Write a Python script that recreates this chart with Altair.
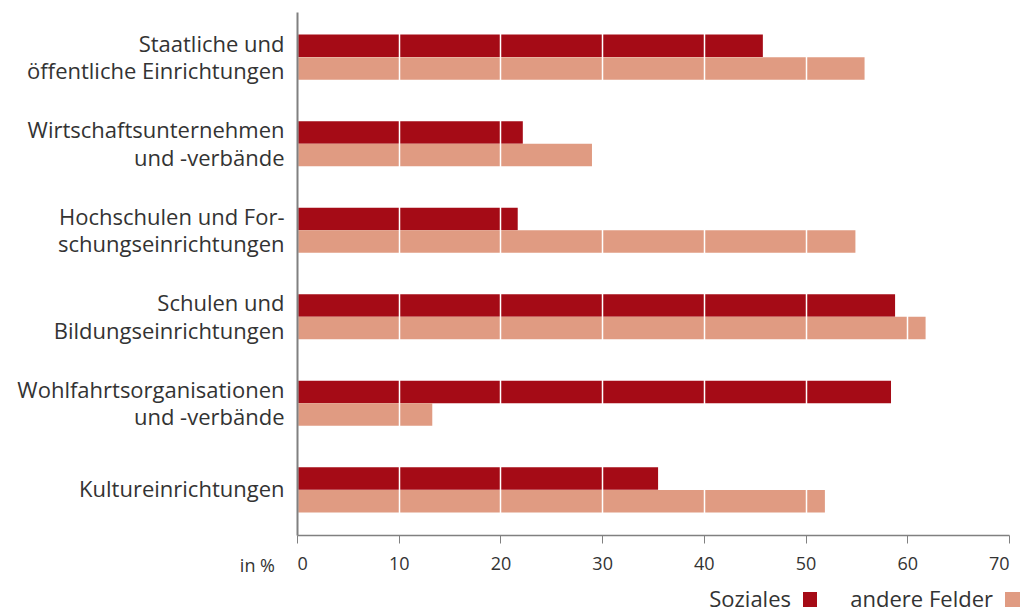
import altair as alt
import pandas as pd

categories = [
    "Staatliche und|öffentliche Einrichtungen",
    "Wirtschaftsunternehmen|und -verbände",
    "Hochschulen und For-|schungseinrichtungen",
    "Schulen und|Bildungseinrichtungen",
    "Wohlfahrtsorganisationen|und -verbände",
    "Kultureinrichtungen",
]
series = ["Soziales", "andere Felder"]
soziales = [45.8, 22.2, 21.7, 58.8, 58.4, 35.5]
andere = [55.8, 29.0, 54.9, 61.8, 13.3, 51.9]
colors = ["#A50B16", "#E09B82"]
ticks = [0, 10, 20, 30, 40, 50, 60, 70]

rows = []
for c, s, a in zip(categories, soziales, andere):
    rows.append({"cat": c, "series": series[0], "value": s})
    rows.append({"cat": c, "series": series[1], "value": a})
df = pd.DataFrame(rows)

FONT = "Open Sans"
TXT = "#333333"

bars = alt.Chart(df).mark_bar(size=22.5).encode(
    y=alt.Y("cat:N", sort=categories,
            scale=alt.Scale(paddingInner=0.479, paddingOuter=0.261),
            axis=alt.Axis(title=None, labelExpr="split(datum.label, '|')",
                          labelFontSize=22, labelFont=FONT, labelColor=TXT,
                          labelLineHeight=27.5, labelPadding=13, ticks=False,
                          labelOffset={"condition": {"test": "indexof(datum.value, '|') >= 0", "value": -12.5},
                                       "value": 0},
                          domainColor="#808080", domainWidth=2, zindex=2,
                          labelLimit=400)),
    yOffset=alt.YOffset("series:N", sort=series),
    x=alt.X("value:Q", scale=alt.Scale(domain=[0, 70], nice=False),
            axis=alt.Axis(title=None, values=ticks, grid=True, gridColor="white",
                          gridWidth=1.5, zindex=1, labelFontSize=18, labelFont=FONT,
                          labelColor=TXT, tickColor="#808080", tickSize=8,
                          domainColor="#808080", domainWidth=1.5, labelPadding=12)),
    color=alt.Color("series:N", sort=series,
                    scale=alt.Scale(domain=series, range=colors), legend=None),
)

in_pct = alt.Chart(pd.DataFrame({"t": ["in %"]})).mark_text(
    align="right", baseline="middle", fontSize=18, font=FONT, color=TXT
).encode(text="t:N", x=alt.value(-22), y=alt.value(555))

lt1 = alt.Chart(pd.DataFrame({"t": [series[0]]})).mark_text(
    align="right", baseline="alphabetic", fontSize=22, font=FONT, color=TXT
).encode(text="t:N", x=alt.value(494), y=alt.value(595))
lt2 = alt.Chart(pd.DataFrame({"t": [series[1]]})).mark_text(
    align="right", baseline="alphabetic", fontSize=22, font=FONT, color=TXT
).encode(text="t:N", x=alt.value(696), y=alt.value(595))
sq1 = alt.Chart(pd.DataFrame({"t": [series[0]]})).mark_rect(color=colors[0]).encode(
    x=alt.value(506), x2=alt.value(520), y=alt.value(580), y2=alt.value(595))
sq2 = alt.Chart(pd.DataFrame({"t": [series[1]]})).mark_rect(color=colors[1]).encode(
    x=alt.value(708), x2=alt.value(723), y=alt.value(580), y2=alt.value(595))

chart = alt.layer(bars, in_pct, lt1, lt2, sq1, sq2).properties(
    width=712, height=523,
    autosize=alt.AutoSizeParams(type="none"),
    padding={"left": 297, "top": 12, "right": 19, "bottom": 78},
).configure(background="white").configure_view(stroke=None)

chart.save("out.html", embed_options={"renderer": "svg", "actions": False})
